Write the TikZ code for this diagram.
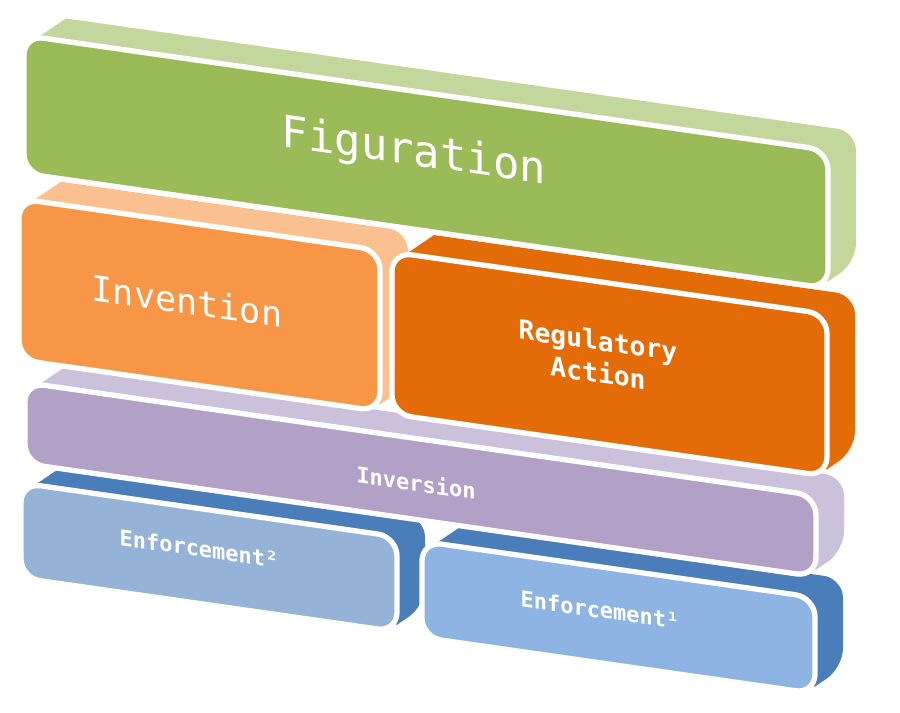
\documentclass[tikz,border=0pt]{standalone}
\usepackage{fontspec}
\newfontfamily\blockfont{DejaVu Sans Mono}
\definecolor{figfront}{HTML}{9BBB59}
\definecolor{figside}{HTML}{C3D69B}
\definecolor{invfront}{HTML}{F79646}
\definecolor{invside}{HTML}{FAC090}
\definecolor{regfront}{HTML}{E36C09}
\definecolor{verfront}{HTML}{B2A1C7}
\definecolor{verside}{HTML}{CCC1DA}
\definecolor{enfleft}{HTML}{95B3D7}
\definecolor{enfright}{HTML}{8EB4E3}
\definecolor{enfside}{HTML}{4A7EBB}
\tikzset{
  face/.style={draw=white, line width=3pt, rounded corners=11pt},
  lbl/.style={text=white, align=center, transform shape},
}
\begin{document}
\begin{tikzpicture}[x=0.02cm, y=-0.02cm]
\useasboundingbox (0,0) rectangle (900,713);
\begin{scope}[yslant=-0.143]

% bottom row
\fill[enfside] (35,494) -- (35,480) -- (63,457) [rounded corners=11pt] -- (425,457) -- (425,545) [sharp corners] -- (397,568) -- (383,568) -- cycle;
\draw[face, fill=enfleft] (21,480) rectangle (397,575);
\fill[enfside] (436,495) -- (436,481) -- (464,458) [rounded corners=11pt] -- (843,458) -- (843,547) [sharp corners] -- (815,570) -- (801,570) -- cycle;
\draw[face, fill=enfright] (422,481) rectangle (815,577);

% middle band
\fill[verside] (39,393) -- (39,379) -- (67,356) [rounded corners=11pt] -- (844,356) -- (844,430) [sharp corners] -- (816,453) -- (802,453) -- cycle;
\draw[face, fill=verfront] (25,379) rectangle (816,460);

% second row
\fill[invside] (33,210) -- (33,196) -- (61,173) [rounded corners=11pt] -- (408,173) -- (408,327) [sharp corners] -- (380,350) -- (366,350) -- cycle;
\draw[face, fill=invfront] (19,196) rectangle (380,357);
\fill[regfront] (406,210) -- (406,196) -- (434,173) [rounded corners=11pt] -- (855,173) -- (855,328) [sharp corners] -- (827,351) -- (813,351) -- cycle;
\draw[face, fill=regfront] (392,196) rectangle (827,358);

% top slab
\fill[figside] (38,46) -- (38,32) -- (66,9) [rounded corners=11pt] -- (856,9) -- (856,140) [sharp corners] -- (828,163) -- (814,163) -- cycle;
\draw[face, fill=figfront] (24,32) rectangle (828,170);

% labels
\node[lbl, font=\blockfont\fontsize{25}{28}\selectfont] (figuration) at (414,94) {Figuration};
\node[lbl, font=\blockfont\fontsize{20}{24}\selectfont] (invention) at (187,274) {Invention};
\node[lbl, font=\blockfont\bfseries\fontsize{15}{18.5}\selectfont] (regulatory) at (598,271) {Regulatory\\Action};
\node[lbl, font=\blockfont\bfseries\fontsize{12.5}{14}\selectfont] (inversion) at (416,423) {Inversion};
\node[lbl, font=\blockfont\bfseries\fontsize{12.5}{14}\selectfont] (enforcetwo) at (199,520) {Enforcement²};
\node[lbl, font=\blockfont\bfseries\fontsize{12.5}{14}\selectfont] (enforceone) at (600,524) {Enforcement¹};
\end{scope}
\end{tikzpicture}
\end{document}
